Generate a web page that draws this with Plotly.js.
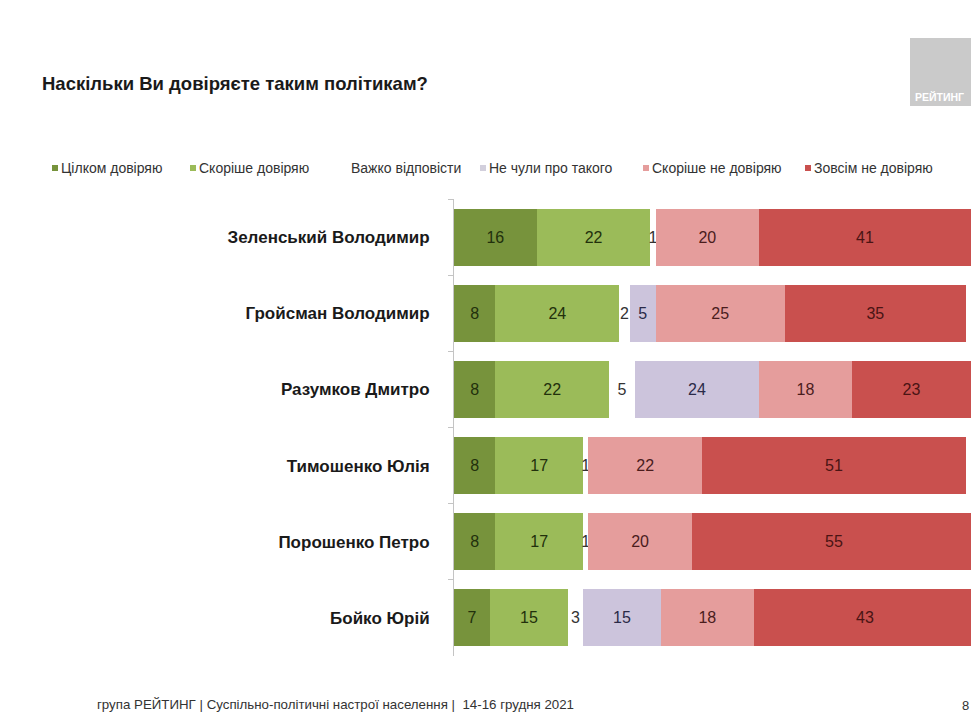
<!DOCTYPE html>
<html>
<head>
<meta charset="utf-8">
<script src="https://cdn.plot.ly/plotly-3.0.1.min.js"></script>
<style>html,body{margin:0;padding:0;background:#fff;}#chart{width:971px;height:717px;}</style>
</head>
<body>
<div id="chart"></div>
<script>
// ---- data ----
var politicians = ['Зеленський Володимир','Гройсман Володимир','Разумков Дмитро','Тимошенко Юлія','Порошенко Петро','Бойко Юрій'];
var seriesNames = ['Цілком довіряю','Скоріше довіряю','Важко відповісти','Не чули про такого','Скоріше не довіряю','Зовсім не довіряю'];
var fullyTrust    = [16, 8, 8, 8, 8, 7];
var ratherTrust   = [22, 24, 22, 17, 17, 15];
var hardToSay     = [1, 2, 5, 1, 1, 3];
var notHeard      = [0, 5, 24, 0, 0, 15];
var ratherDistrust= [20, 25, 18, 22, 20, 18];
var fullyDistrust = [41, 35, 23, 51, 55, 43];

var titleText = 'Наскільки Ви довіряєте таким політикам?';
var footerText = 'група РЕЙТИНГ | Суспільно-політичні настрої населення |  14-16 грудня 2021';
var pageNumber = '8';
var logoText = 'РЕЙТИНГ';

// ---- styles / layout ----
var W = 971, H = 717;
var M = {l: 454, r: 0, t: 199, b: 61};
var colors = ['#77933c', '#9bbb59', '#ffffff', '#ccc4dc', '#e59d9c', '#c9504e'];
var legendSwatch = ['#77933c', '#9bbb59', '#ffffff', '#d2cfdc', '#e59d9c', '#c9504e'];
var textColors = ['#22300c', '#22300c', '#333333', '#2a2a48', '#4a1c1c', '#4a1414'];
var values = [fullyTrust, ratherTrust, hardToSay, notHeard, ratherDistrust, fullyDistrust];
var legendPx = [52, 190, 342, 480, 643, 805]; // swatch left edges (pixels)
var legendY = 168;
var baseFont = 'Liberation Sans, Arial, sans-serif';

function px2x(px){ return (px - M.l) / (W - M.l - M.r); }
function px2y(py){ return (H - M.b - py) / (H - M.t - M.b); }

var traces = values.map(function(v, i){
  return {
    type: 'bar',
    orientation: 'h',
    name: seriesNames[i],
    y: politicians,
    x: v,
    text: v.map(function(d){ return d ? String(d) : ''; }),
    textposition: 'inside',
    insidetextanchor: 'middle',
    textangle: 0,
    textfont: {family: baseFont, size: 16, color: textColors[i]},
    marker: {color: colors[i], line: {width: 0}},
    hoverinfo: 'x+name',
    showlegend: false
  };
});

var shapes = [
  {type: 'rect', xref: 'paper', yref: 'paper', x0: px2x(910), x1: px2x(975), y0: px2y(106), y1: px2y(38),
   fillcolor: '#cacaca', line: {width: 0}, layer: 'below'}
];
var annotations = [
  {text: logoText, xref: 'paper', yref: 'paper', x: px2x(913), y: px2y(97), xanchor: 'left', yanchor: 'middle',
   showarrow: false, font: {family: baseFont, size: 10.5, weight: 'bold', color: '#ffffff'}},
  {text: footerText, xref: 'paper', yref: 'paper', x: px2x(95), y: px2y(704), xanchor: 'left', yanchor: 'middle',
   showarrow: false, font: {family: baseFont, size: 13.3, color: '#333'}},
  {text: pageNumber, xref: 'paper', yref: 'paper', x: px2x(965), y: px2y(705), xanchor: 'center', yanchor: 'middle',
   showarrow: false, font: {family: baseFont, size: 13, color: '#333'}}
];
seriesNames.forEach(function(n, i){
  var x0 = legendPx[i];
  shapes.push({type: 'rect', xref: 'paper', yref: 'paper',
    x0: px2x(x0), x1: px2x(x0 + 6), y0: px2y(legendY + 3), y1: px2y(legendY - 3),
    fillcolor: legendSwatch[i], line: {width: 0}});
  annotations.push({text: n, xref: 'paper', yref: 'paper', x: px2x(x0 + 7), y: px2y(legendY),
    xanchor: 'left', yanchor: 'middle', showarrow: false,
    font: {family: baseFont, size: 14, color: '#333'}});
});

var layout = {
  width: W, height: H,
  margin: M,
  barmode: 'stack',
  bargap: 0.25,
  paper_bgcolor: '#ffffff',
  plot_bgcolor: '#ffffff',
  font: {family: baseFont, color: '#222'},
  uniformtext: {mode: 'show', minsize: 16},
  showlegend: false,
  title: {
    text: titleText,
    font: {family: baseFont, size: 18.5, weight: 'bold', color: '#1a1a1a'},
    xref: 'container', yref: 'container',
    x: 42 / W, xanchor: 'left',
    y: 1 - 84 / H, yanchor: 'middle'
  },
  xaxis: {range: [0, 100], visible: false, fixedrange: true},
  yaxis: {
    autorange: 'reversed',
    showline: true, linecolor: '#c4c4c4', linewidth: 1,
    ticks: 'outside', tickson: 'boundaries', ticklen: 5, tickcolor: '#c4c4c4',
    ticklabelstandoff: 20,
    tickfont: {family: baseFont, size: 17, weight: 'bold', color: '#1a1a1a'},
    showgrid: false, zeroline: false, fixedrange: true
  },
  shapes: shapes,
  annotations: annotations
};

Plotly.newPlot('chart', traces, layout, {displayModeBar: false, staticPlot: true});
</script>
</body>
</html>
